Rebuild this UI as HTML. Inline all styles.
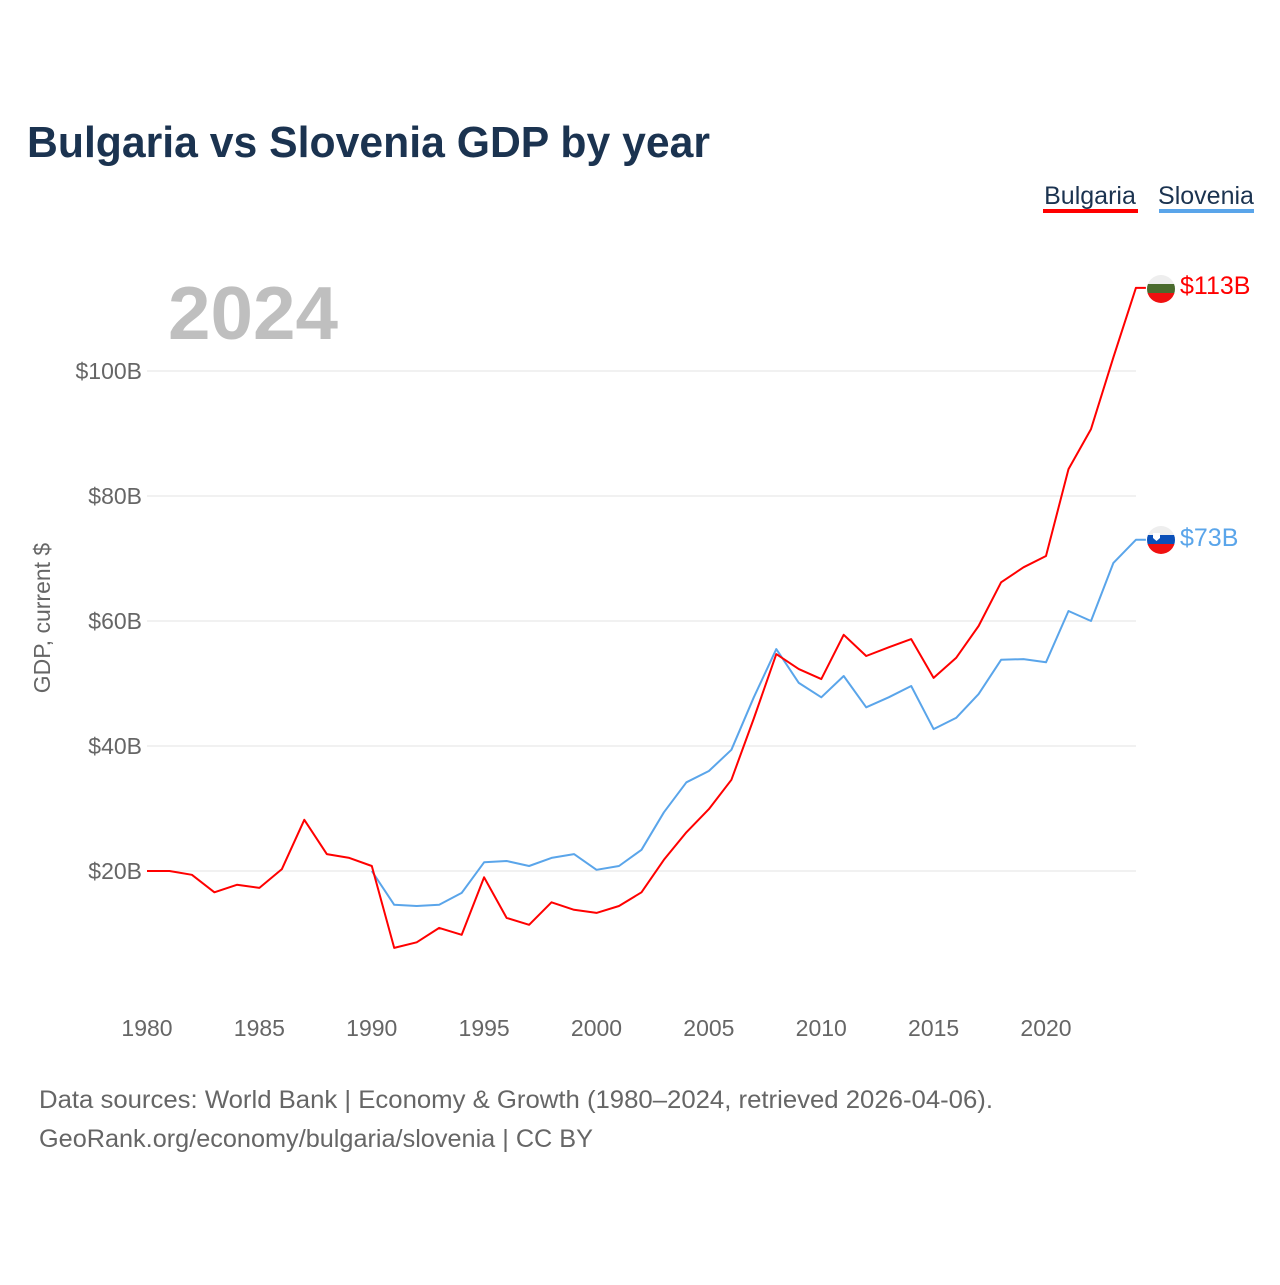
<!DOCTYPE html>
<html><head><meta charset="utf-8">
<style>
html,body{margin:0;padding:0;background:#fff;}
body{width:1280px;height:1280px;overflow:hidden;font-family:"Liberation Sans",sans-serif;}
</style></head>
<body>
<svg id="chart" width="1280" height="1280" xmlns="http://www.w3.org/2000/svg" style="font-family:'Liberation Sans',sans-serif">
<text x="27" y="157" font-size="44" font-weight="bold" fill="#1b3350" textLength="683" lengthAdjust="spacingAndGlyphs">Bulgaria vs Slovenia GDP by year</text>
<g>
<text x="1090" y="204" font-size="25" fill="#1b3350" text-anchor="middle">Bulgaria</text>
<rect x="1043" y="209" width="95" height="4" fill="#ff0000"/>
</g>
<g>
<text x="1206" y="204" font-size="25" fill="#1b3350" text-anchor="middle">Slovenia</text>
<rect x="1159" y="209" width="95" height="4" fill="#5aa5ea"/>
</g>
<text x="168" y="339" font-size="75" font-weight="bold" fill="#bfbfbf" textLength="170" lengthAdjust="spacingAndGlyphs">2024</text>
<text transform="translate(50,618) rotate(-90)" font-size="23" fill="#666" text-anchor="middle">GDP, current $</text>
<g id="grid"></g><g id="yticks"></g><g id="xticks"></g><g id="series"></g>
<text x="39" y="1108" font-size="25" fill="#666" textLength="954" lengthAdjust="spacingAndGlyphs">Data sources: World Bank | Economy &amp; Growth (1980–2024, retrieved 2026-04-06).</text>
<text x="39" y="1147" font-size="25" fill="#666" textLength="554" lengthAdjust="spacingAndGlyphs">GeoRank.org/economy/bulgaria/slovenia | CC BY</text>
<defs>
<clipPath id="c1"><circle cx="1161" cy="289" r="14"/></clipPath>
<clipPath id="c2"><circle cx="1161" cy="540" r="14"/></clipPath>
</defs>
<g clip-path="url(#c1)">
<rect x="1147" y="275" width="28" height="10" fill="#eee"/><rect x="1147" y="284" width="28" height="10" fill="#4a6b2e"/><rect x="1147" y="293" width="28" height="10" fill="#f01010"/>
</g>
<g clip-path="url(#c2)">
<rect x="1147" y="526" width="28" height="10" fill="#eee"/><rect x="1147" y="535" width="28" height="10" fill="#0a4fb8"/><rect x="1147" y="544" width="28" height="10" fill="#f01010"/>
<path d="M1153 533 h7 v5 l-3.5 3 l-3.5 -3z" fill="#fff"/>
</g>
<text x="1180" y="294" font-size="25" fill="#ff0000">$113B</text>
<text x="1180" y="546" font-size="25" fill="#5aa5ea">$73B</text>
</svg>
<script>
const years=[1980,1981,1982,1983,1984,1985,1986,1987,1988,1989,1990,1991,1992,1993,1994,1995,1996,1997,1998,1999,2000,2001,2002,2003,2004,2005,2006,2007,2008,2009,2010,2011,2012,2013,2014,2015,2016,2017,2018,2019,2020,2021,2022,2023,2024];
const bulgaria=[20.0,20.0,19.4,16.6,17.8,17.3,20.3,28.2,22.7,22.1,20.8,7.7,8.6,10.9,9.8,19.0,12.5,11.4,15.0,13.8,13.3,14.4,16.6,21.8,26.2,29.9,34.6,44.4,54.7,52.3,50.7,57.8,54.4,55.8,57.1,50.9,54.1,59.2,66.2,68.6,70.4,84.3,90.7,102.2,113.3];
const slovenia=[null,null,null,null,null,null,null,null,null,null,20.0,14.6,14.4,14.6,16.5,21.4,21.6,20.8,22.1,22.7,20.2,20.8,23.4,29.4,34.2,36.0,39.4,47.8,55.5,50.1,47.8,51.2,46.2,47.8,49.6,42.7,44.5,48.3,53.8,53.9,53.4,61.6,60.0,69.3,73.0];
const yTicks=[20,40,60,80,100];
const xTicks=[1980,1985,1990,1995,2000,2005,2010,2015,2020];
const NS="http://www.w3.org/2000/svg";
const X=y=>147+(y-1980)*22.475;
const Y=v=>996-v*6.25;
function mk(t,a,p){const e=document.createElementNS(NS,t);for(const k in a)e.setAttribute(k,a[k]);p.appendChild(e);return e;}
const grid=document.getElementById('grid'),yt=document.getElementById('yticks'),xt=document.getElementById('xticks'),ser=document.getElementById('series');
yTicks.forEach(v=>{
 const l=mk('line',{x1:147,x2:1136,y1:Y(v),y2:Y(v),stroke:'#e3e3e3','stroke-width':1},grid);
 
 
 const t=mk('text',{x:142,y:Y(v)+8,'font-size':23,fill:'#666','text-anchor':'end'},yt);
 t.textContent='$'+v+'B';
 
 
});
xTicks.forEach(v=>{
 const t=mk('text',{x:X(v),y:1036,'font-size':23,fill:'#666','text-anchor':'middle'},xt);
 t.textContent=v;
 
 
});
function line(arr,color,name){
 let d='';
 arr.forEach((v,i)=>{if(v==null)return;d+=(d?'L':'M')+X(years[i]).toFixed(1)+' '+Y(v).toFixed(1);});
 const last=arr[arr.length-1];
 d+='L'+(X(years[years.length-1])+10)+' '+Y(last).toFixed(1);
 const p=mk('path',{d:d,fill:'none',stroke:color,'stroke-width':2,'stroke-linejoin':'round'},ser);
 
 
}
line(slovenia,'#5aa5ea','slovenia-line');
line(bulgaria,'#ff0000','bulgaria-line');
</script>
</body></html>
